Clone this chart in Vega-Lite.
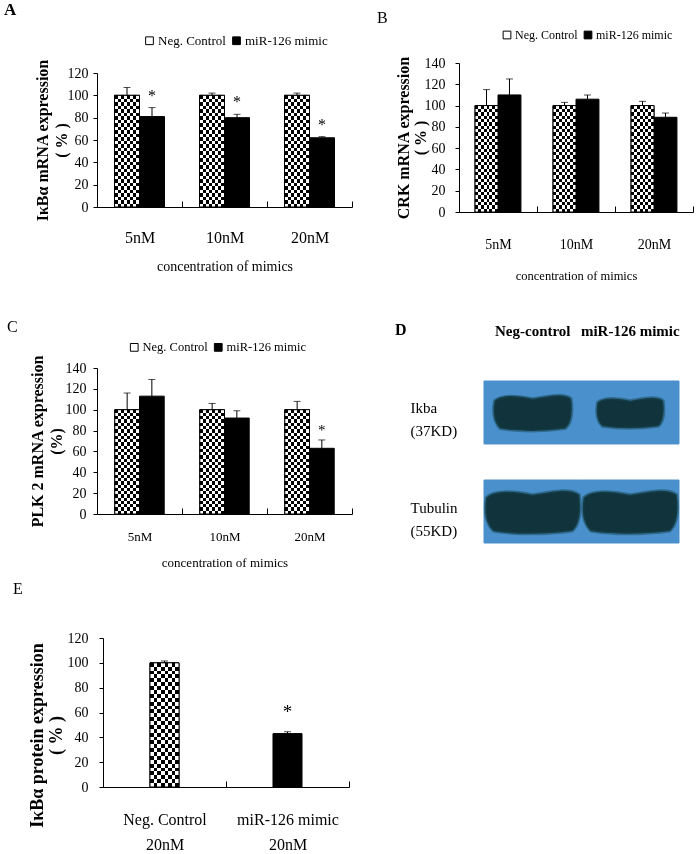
{
"$schema": "https://vega.github.io/schema/vega-lite/v6.json",
"background": "white",
"padding": {"left": 4, "top": 1, "right": 0, "bottom": 0},
"config": {
 "view": {"stroke": null},
 "font": "Liberation Serif",
 "axis": {"grid": false, "domainColor": "black", "tickColor": "black", "labelColor": "black", "titleColor": "black", "labelFont": "Liberation Serif", "titleFont": "Liberation Serif", "domainWidth": 1, "tickWidth": 1},
 "axisY": {"titleFontWeight": "bold"},
 "axisX": {"titleFontWeight": "normal", "labelOverlap": false},
 "legend": {"symbolType": "square", "symbolSize": 60, "symbolStrokeColor": "black", "symbolStrokeWidth": 1, "labelFont": "Liberation Serif", "labelColor": "black", "columnPadding": 4, "labelOffset": 2, "padding": 0, "rowPadding": 0},
 "title": {"font": "Liberation Serif", "color": "black"}
},
"datasets": {
 "A": [
  {"conc": "5nM", "group": "Neg. Control", "value": 100, "hi": 107, "sig": ""},
  {"conc": "5nM", "group": "miR-126 mimic", "value": 81, "hi": 89, "sig": "*"},
  {"conc": "10nM", "group": "Neg. Control", "value": 100, "hi": 102, "sig": ""},
  {"conc": "10nM", "group": "miR-126 mimic", "value": 80, "hi": 83, "sig": "*"},
  {"conc": "20nM", "group": "Neg. Control", "value": 100, "hi": 102, "sig": ""},
  {"conc": "20nM", "group": "miR-126 mimic", "value": 62, "hi": 63, "sig": "*"}
 ],
 "B": [
  {"conc": "5nM", "group": "Neg. Control", "value": 100, "hi": 115, "sig": ""},
  {"conc": "5nM", "group": "miR-126 mimic", "value": 110, "hi": 125, "sig": ""},
  {"conc": "10nM", "group": "Neg. Control", "value": 100, "hi": 103, "sig": ""},
  {"conc": "10nM", "group": "miR-126 mimic", "value": 106, "hi": 110, "sig": ""},
  {"conc": "20nM", "group": "Neg. Control", "value": 100, "hi": 104, "sig": ""},
  {"conc": "20nM", "group": "miR-126 mimic", "value": 89, "hi": 93, "sig": ""}
 ],
 "C": [
  {"conc": "5nM", "group": "Neg. Control", "value": 100, "hi": 116, "sig": ""},
  {"conc": "5nM", "group": "miR-126 mimic", "value": 113, "hi": 129, "sig": ""},
  {"conc": "10nM", "group": "Neg. Control", "value": 100, "hi": 106, "sig": ""},
  {"conc": "10nM", "group": "miR-126 mimic", "value": 92, "hi": 99, "sig": ""},
  {"conc": "20nM", "group": "Neg. Control", "value": 100, "hi": 108, "sig": ""},
  {"conc": "20nM", "group": "miR-126 mimic", "value": 63, "hi": 71, "sig": "*"}
 ],
 "D": [
  {"lane": "Neg-control", "protein": "Ikba|(37KD)", "signal": 68},
  {"lane": "miR-126 mimic", "protein": "Ikba|(37KD)", "signal": 50},
  {"lane": "Neg-control", "protein": "Tubulin|(55KD)", "signal": 100},
  {"lane": "miR-126 mimic", "protein": "Tubulin|(55KD)", "signal": 100}
 ],
 "E": [
  {"cond": "Neg. Control|20nM", "group": "Neg. Control", "value": 100, "hi": 101.5, "sig": ""},
  {"cond": "miR-126 mimic|20nM", "group": "miR-126 mimic", "value": 43, "hi": 44.5, "sig": "*"}
 ]
},
"columns": 2,
"spacing": {"row": 95, "column": 107},
"bounds": "flush",
"align": "each",
"resolve": {"scale": {"color": "independent", "x": "independent", "y": "independent", "xOffset": "independent", "size": "independent"}, "legend": {"color": "independent"}, "axis": {"x": "independent", "y": "independent"}},
"concat": [
{
 "data": {"name": "A"},
 "width": 255, "height": 149,
 "title": {"text": "A", "anchor": "start", "frame": "group", "dx": -93, "offset": 15, "fontSize": 17, "fontWeight": "bold"},
 "encoding": {
  "x": {"field": "conc", "type": "nominal", "sort": ["5nM", "10nM", "20nM"], "scale": {"paddingInner": 0, "paddingOuter": 0},
        "axis": {"title": "concentration of mimics", "offset": -5, "tickBand": "extent", "tickSize": -6, "labelPadding": 28, "labelAngle": 0, "labelFontSize": 16, "titleFontSize": 14, "titlePadding": 14}},
  "xOffset": {"field": "group", "type": "nominal", "scale": {"domain": ["Neg. Control", "miR-126 mimic"], "paddingInner": 0, "paddingOuter": 0.7}},
  "y": {"field": "value", "type": "quantitative", "title": ["IκBα mRNA expression", "( % )"], "scale": {"domain": [0, 120], "range": [144, 10], "nice": false},
        "axis": {"values": [0, 20, 40, 60, 80, 100, 120], "tickSize": 4, "labelPadding": 5, "labelFontSize": 14, "titleFontSize": 16, "titleLineHeight": 19, "titlePadding": -2}}
 },
 "layer": [
  {"mark": {"type": "bar", "stroke": "black", "strokeWidth": 1},
   "encoding": {"color": {"field": "group", "type": "nominal", "scale": {"domain": ["Neg. Control", "miR-126 mimic"], "range": ["white", "black"]},
     "legend": {"orient": "none", "legendX": 46, "legendY": -29, "direction": "horizontal", "title": null, "labelFontSize": 13}}}},
  {"transform": [{"filter": "datum.group === 'Neg. Control'"}],
   "mark": {"type": "bar", "fill": {"gradient": "linear", "x1": 0, "y1": 0, "x2": 0, "y2": 1, "stops": [{"offset":0,"color":"#000"},{"offset":0.03125,"color":"#000"},{"offset":0.03125,"color":"#fff"},{"offset":0.0625,"color":"#fff"},{"offset":0.0625,"color":"#000"},{"offset":0.09375,"color":"#000"},{"offset":0.09375,"color":"#fff"},{"offset":0.125,"color":"#fff"},{"offset":0.125,"color":"#000"},{"offset":0.15625,"color":"#000"},{"offset":0.15625,"color":"#fff"},{"offset":0.1875,"color":"#fff"},{"offset":0.1875,"color":"#000"},{"offset":0.21875,"color":"#000"},{"offset":0.21875,"color":"#fff"},{"offset":0.25,"color":"#fff"},{"offset":0.25,"color":"#000"},{"offset":0.28125,"color":"#000"},{"offset":0.28125,"color":"#fff"},{"offset":0.3125,"color":"#fff"},{"offset":0.3125,"color":"#000"},{"offset":0.34375,"color":"#000"},{"offset":0.34375,"color":"#fff"},{"offset":0.375,"color":"#fff"},{"offset":0.375,"color":"#000"},{"offset":0.40625,"color":"#000"},{"offset":0.40625,"color":"#fff"},{"offset":0.4375,"color":"#fff"},{"offset":0.4375,"color":"#000"},{"offset":0.46875,"color":"#000"},{"offset":0.46875,"color":"#fff"},{"offset":0.5,"color":"#fff"},{"offset":0.5,"color":"#000"},{"offset":0.53125,"color":"#000"},{"offset":0.53125,"color":"#fff"},{"offset":0.5625,"color":"#fff"},{"offset":0.5625,"color":"#000"},{"offset":0.59375,"color":"#000"},{"offset":0.59375,"color":"#fff"},{"offset":0.625,"color":"#fff"},{"offset":0.625,"color":"#000"},{"offset":0.65625,"color":"#000"},{"offset":0.65625,"color":"#fff"},{"offset":0.6875,"color":"#fff"},{"offset":0.6875,"color":"#000"},{"offset":0.71875,"color":"#000"},{"offset":0.71875,"color":"#fff"},{"offset":0.75,"color":"#fff"},{"offset":0.75,"color":"#000"},{"offset":0.78125,"color":"#000"},{"offset":0.78125,"color":"#fff"},{"offset":0.8125,"color":"#fff"},{"offset":0.8125,"color":"#000"},{"offset":0.84375,"color":"#000"},{"offset":0.84375,"color":"#fff"},{"offset":0.875,"color":"#fff"},{"offset":0.875,"color":"#000"},{"offset":0.90625,"color":"#000"},{"offset":0.90625,"color":"#fff"},{"offset":0.9375,"color":"#fff"},{"offset":0.9375,"color":"#000"},{"offset":0.96875,"color":"#000"},{"offset":0.96875,"color":"#fff"},{"offset":1,"color":"#fff"}]}}},
  {"transform": [{"filter": "datum.group === 'Neg. Control'"}],
   "mark": {"type": "bar", "blend": "difference", "fill": {"gradient": "linear", "x1": 0, "y1": 0, "x2": 1, "y2": 0, "stops": [{"offset":0,"color":"#000"},{"offset":0.125,"color":"#000"},{"offset":0.125,"color":"#fff"},{"offset":0.25,"color":"#fff"},{"offset":0.25,"color":"#000"},{"offset":0.375,"color":"#000"},{"offset":0.375,"color":"#fff"},{"offset":0.5,"color":"#fff"},{"offset":0.5,"color":"#000"},{"offset":0.625,"color":"#000"},{"offset":0.625,"color":"#fff"},{"offset":0.75,"color":"#fff"},{"offset":0.75,"color":"#000"},{"offset":0.875,"color":"#000"},{"offset":0.875,"color":"#fff"},{"offset":1,"color":"#fff"}]}}},
  {"transform": [{"filter": "datum.group === 'Neg. Control'"}],
   "mark": {"type": "bar", "fillOpacity": 0, "stroke": "black", "strokeWidth": 1}},
  {"mark": {"type": "rule", "color": "black", "strokeWidth": 1}, "encoding": {"y2": {"field": "hi"}}},
  {"mark": {"type": "tick", "color": "black", "thickness": 1, "size": 7, "orient": "horizontal"}, "encoding": {"y": {"field": "hi", "type": "quantitative", "title": ["IκBα mRNA expression", "( % )"]}}},
  {"mark": {"type": "text", "dy": -12, "fontSize": 16, "baseline": "middle", "color": "black"}, "encoding": {"y": {"field": "hi", "type": "quantitative", "title": ["IκBα mRNA expression", "( % )"]}, "text": {"field": "sig"}}}
 ]
},
{
 "data": {"name": "B"},
 "width": 234, "height": 149,
 "title": {"text": "B", "anchor": "start", "frame": "group", "dx": -82, "offset": 3, "fontSize": 16, "fontWeight": "normal"},
 "encoding": {
  "x": {"field": "conc", "type": "nominal", "sort": ["5nM", "10nM", "20nM"], "scale": {"paddingInner": 0, "paddingOuter": 0},
        "axis": {"title": "concentration of mimics", "tickBand": "extent", "tickSize": -6, "labelPadding": 31, "labelAngle": 0, "labelFontSize": 14, "titleFontSize": 12.5, "titlePadding": 18}},
  "xOffset": {"field": "group", "type": "nominal", "scale": {"domain": ["Neg. Control", "miR-126 mimic"], "paddingInner": 0, "paddingOuter": 0.7}},
  "y": {"field": "value", "type": "quantitative", "title": ["CRK mRNA expression", "( % )"], "scale": {"domain": [0, 140], "nice": false},
        "axis": {"values": [0, 20, 40, 60, 80, 100, 120, 140], "tickSize": 4, "labelPadding": 10, "labelFontSize": 14, "titleFontSize": 16, "titleLineHeight": 17, "titlePadding": -4}}
 },
 "layer": [
  {"mark": {"type": "bar", "stroke": "black", "strokeWidth": 1},
   "encoding": {"color": {"field": "group", "type": "nominal", "scale": {"domain": ["Neg. Control", "miR-126 mimic"], "range": ["white", "black"]},
     "legend": {"orient": "none", "legendX": 42, "legendY": -34, "direction": "horizontal", "title": null, "labelFontSize": 12}}}},
  {"transform": [{"filter": "datum.group === 'Neg. Control'"}],
   "mark": {"type": "bar", "fill": {"gradient": "linear", "x1": 0, "y1": 0, "x2": 0, "y2": 1, "stops": [{"offset":0,"color":"#000"},{"offset":0.03125,"color":"#000"},{"offset":0.03125,"color":"#fff"},{"offset":0.0625,"color":"#fff"},{"offset":0.0625,"color":"#000"},{"offset":0.09375,"color":"#000"},{"offset":0.09375,"color":"#fff"},{"offset":0.125,"color":"#fff"},{"offset":0.125,"color":"#000"},{"offset":0.15625,"color":"#000"},{"offset":0.15625,"color":"#fff"},{"offset":0.1875,"color":"#fff"},{"offset":0.1875,"color":"#000"},{"offset":0.21875,"color":"#000"},{"offset":0.21875,"color":"#fff"},{"offset":0.25,"color":"#fff"},{"offset":0.25,"color":"#000"},{"offset":0.28125,"color":"#000"},{"offset":0.28125,"color":"#fff"},{"offset":0.3125,"color":"#fff"},{"offset":0.3125,"color":"#000"},{"offset":0.34375,"color":"#000"},{"offset":0.34375,"color":"#fff"},{"offset":0.375,"color":"#fff"},{"offset":0.375,"color":"#000"},{"offset":0.40625,"color":"#000"},{"offset":0.40625,"color":"#fff"},{"offset":0.4375,"color":"#fff"},{"offset":0.4375,"color":"#000"},{"offset":0.46875,"color":"#000"},{"offset":0.46875,"color":"#fff"},{"offset":0.5,"color":"#fff"},{"offset":0.5,"color":"#000"},{"offset":0.53125,"color":"#000"},{"offset":0.53125,"color":"#fff"},{"offset":0.5625,"color":"#fff"},{"offset":0.5625,"color":"#000"},{"offset":0.59375,"color":"#000"},{"offset":0.59375,"color":"#fff"},{"offset":0.625,"color":"#fff"},{"offset":0.625,"color":"#000"},{"offset":0.65625,"color":"#000"},{"offset":0.65625,"color":"#fff"},{"offset":0.6875,"color":"#fff"},{"offset":0.6875,"color":"#000"},{"offset":0.71875,"color":"#000"},{"offset":0.71875,"color":"#fff"},{"offset":0.75,"color":"#fff"},{"offset":0.75,"color":"#000"},{"offset":0.78125,"color":"#000"},{"offset":0.78125,"color":"#fff"},{"offset":0.8125,"color":"#fff"},{"offset":0.8125,"color":"#000"},{"offset":0.84375,"color":"#000"},{"offset":0.84375,"color":"#fff"},{"offset":0.875,"color":"#fff"},{"offset":0.875,"color":"#000"},{"offset":0.90625,"color":"#000"},{"offset":0.90625,"color":"#fff"},{"offset":0.9375,"color":"#fff"},{"offset":0.9375,"color":"#000"},{"offset":0.96875,"color":"#000"},{"offset":0.96875,"color":"#fff"},{"offset":1,"color":"#fff"}]}}},
  {"transform": [{"filter": "datum.group === 'Neg. Control'"}],
   "mark": {"type": "bar", "blend": "difference", "fill": {"gradient": "linear", "x1": 0, "y1": 0, "x2": 1, "y2": 0, "stops": [{"offset":0,"color":"#000"},{"offset":0.125,"color":"#000"},{"offset":0.125,"color":"#fff"},{"offset":0.25,"color":"#fff"},{"offset":0.25,"color":"#000"},{"offset":0.375,"color":"#000"},{"offset":0.375,"color":"#fff"},{"offset":0.5,"color":"#fff"},{"offset":0.5,"color":"#000"},{"offset":0.625,"color":"#000"},{"offset":0.625,"color":"#fff"},{"offset":0.75,"color":"#fff"},{"offset":0.75,"color":"#000"},{"offset":0.875,"color":"#000"},{"offset":0.875,"color":"#fff"},{"offset":1,"color":"#fff"}]}}},
  {"transform": [{"filter": "datum.group === 'Neg. Control'"}],
   "mark": {"type": "bar", "fillOpacity": 0, "stroke": "black", "strokeWidth": 1}},
  {"mark": {"type": "rule", "color": "black", "strokeWidth": 1}, "encoding": {"y2": {"field": "hi"}}},
  {"mark": {"type": "tick", "color": "black", "thickness": 1, "size": 7, "orient": "horizontal"}, "encoding": {"y": {"field": "hi", "type": "quantitative", "title": ["CRK mRNA expression", "( % )"]}}}
 ]
},
{
 "data": {"name": "C"},
 "width": 255, "height": 207,
 "title": {"text": "C", "anchor": "start", "frame": "group", "dx": -90, "offset": -28, "fontSize": 16, "fontWeight": "normal"},
 "encoding": {
  "x": {"field": "conc", "type": "nominal", "sort": ["5nM", "10nM", "20nM"], "scale": {"paddingInner": 0, "paddingOuter": 0},
        "axis": {"title": "concentration of mimics", "tickBand": "extent", "tickSize": -6, "labelPadding": 22, "labelAngle": 0, "labelFontSize": 13, "titleFontSize": 13, "titlePadding": 13}},
  "xOffset": {"field": "group", "type": "nominal", "scale": {"domain": ["Neg. Control", "miR-126 mimic"], "paddingInner": 0, "paddingOuter": 0.72}},
  "y": {"field": "value", "type": "quantitative", "title": ["PLK 2 mRNA expression", "(%)"], "scale": {"domain": [0, 140], "range": [207, 61], "nice": false},
        "axis": {"values": [0, 20, 40, 60, 80, 100, 120, 140], "tickSize": 4, "labelPadding": 7, "labelFontSize": 14, "titleFontSize": 16, "titleLineHeight": 19, "titlePadding": 1}}
 },
 "layer": [
  {"mark": {"type": "bar", "stroke": "black", "strokeWidth": 1},
   "encoding": {"color": {"field": "group", "type": "nominal", "scale": {"domain": ["Neg. Control", "miR-126 mimic"], "range": ["white", "black"]},
     "legend": {"orient": "none", "legendX": 31, "legendY": 34, "direction": "horizontal", "title": null, "labelFontSize": 12.5}}}},
  {"transform": [{"filter": "datum.group === 'Neg. Control'"}],
   "mark": {"type": "bar", "fill": {"gradient": "linear", "x1": 0, "y1": 0, "x2": 0, "y2": 1, "stops": [{"offset":0,"color":"#000"},{"offset":0.03125,"color":"#000"},{"offset":0.03125,"color":"#fff"},{"offset":0.0625,"color":"#fff"},{"offset":0.0625,"color":"#000"},{"offset":0.09375,"color":"#000"},{"offset":0.09375,"color":"#fff"},{"offset":0.125,"color":"#fff"},{"offset":0.125,"color":"#000"},{"offset":0.15625,"color":"#000"},{"offset":0.15625,"color":"#fff"},{"offset":0.1875,"color":"#fff"},{"offset":0.1875,"color":"#000"},{"offset":0.21875,"color":"#000"},{"offset":0.21875,"color":"#fff"},{"offset":0.25,"color":"#fff"},{"offset":0.25,"color":"#000"},{"offset":0.28125,"color":"#000"},{"offset":0.28125,"color":"#fff"},{"offset":0.3125,"color":"#fff"},{"offset":0.3125,"color":"#000"},{"offset":0.34375,"color":"#000"},{"offset":0.34375,"color":"#fff"},{"offset":0.375,"color":"#fff"},{"offset":0.375,"color":"#000"},{"offset":0.40625,"color":"#000"},{"offset":0.40625,"color":"#fff"},{"offset":0.4375,"color":"#fff"},{"offset":0.4375,"color":"#000"},{"offset":0.46875,"color":"#000"},{"offset":0.46875,"color":"#fff"},{"offset":0.5,"color":"#fff"},{"offset":0.5,"color":"#000"},{"offset":0.53125,"color":"#000"},{"offset":0.53125,"color":"#fff"},{"offset":0.5625,"color":"#fff"},{"offset":0.5625,"color":"#000"},{"offset":0.59375,"color":"#000"},{"offset":0.59375,"color":"#fff"},{"offset":0.625,"color":"#fff"},{"offset":0.625,"color":"#000"},{"offset":0.65625,"color":"#000"},{"offset":0.65625,"color":"#fff"},{"offset":0.6875,"color":"#fff"},{"offset":0.6875,"color":"#000"},{"offset":0.71875,"color":"#000"},{"offset":0.71875,"color":"#fff"},{"offset":0.75,"color":"#fff"},{"offset":0.75,"color":"#000"},{"offset":0.78125,"color":"#000"},{"offset":0.78125,"color":"#fff"},{"offset":0.8125,"color":"#fff"},{"offset":0.8125,"color":"#000"},{"offset":0.84375,"color":"#000"},{"offset":0.84375,"color":"#fff"},{"offset":0.875,"color":"#fff"},{"offset":0.875,"color":"#000"},{"offset":0.90625,"color":"#000"},{"offset":0.90625,"color":"#fff"},{"offset":0.9375,"color":"#fff"},{"offset":0.9375,"color":"#000"},{"offset":0.96875,"color":"#000"},{"offset":0.96875,"color":"#fff"},{"offset":1,"color":"#fff"}]}}},
  {"transform": [{"filter": "datum.group === 'Neg. Control'"}],
   "mark": {"type": "bar", "blend": "difference", "fill": {"gradient": "linear", "x1": 0, "y1": 0, "x2": 1, "y2": 0, "stops": [{"offset":0,"color":"#000"},{"offset":0.125,"color":"#000"},{"offset":0.125,"color":"#fff"},{"offset":0.25,"color":"#fff"},{"offset":0.25,"color":"#000"},{"offset":0.375,"color":"#000"},{"offset":0.375,"color":"#fff"},{"offset":0.5,"color":"#fff"},{"offset":0.5,"color":"#000"},{"offset":0.625,"color":"#000"},{"offset":0.625,"color":"#fff"},{"offset":0.75,"color":"#fff"},{"offset":0.75,"color":"#000"},{"offset":0.875,"color":"#000"},{"offset":0.875,"color":"#fff"},{"offset":1,"color":"#fff"}]}}},
  {"transform": [{"filter": "datum.group === 'Neg. Control'"}],
   "mark": {"type": "bar", "fillOpacity": 0, "stroke": "black", "strokeWidth": 1}},
  {"mark": {"type": "rule", "color": "black", "strokeWidth": 1}, "encoding": {"y2": {"field": "hi"}}},
  {"mark": {"type": "tick", "color": "black", "thickness": 1, "size": 7, "orient": "horizontal"}, "encoding": {"y": {"field": "hi", "type": "quantitative", "title": ["PLK 2 mRNA expression", "(%)"]}}},
  {"mark": {"type": "text", "dy": -10, "fontSize": 15, "baseline": "middle", "color": "black"}, "encoding": {"y": {"field": "hi", "type": "quantitative", "title": ["PLK 2 mRNA expression", "(%)"]}, "text": {"field": "sig"}}}
 ]
},
{
 "data": {"name": "D"},
 "width": 234, "height": 236,
 "title": {"text": "D", "anchor": "start", "frame": "group", "dx": -64, "offset": -31, "fontSize": 16, "fontWeight": "bold"},
 "encoding": {
  "x": {"field": "lane", "type": "nominal", "sort": ["Neg-control", "miR-126 mimic"], "scale": {"range": [25, 220], "paddingInner": 0, "paddingOuter": 0},
        "axis": {"orient": "top", "title": null, "domain": false, "ticks": false, "labelAngle": 0, "labelFontSize": 15, "labelFontWeight": "bold", "offset": -33, "labelPadding": 2}},
  "y": {"field": "protein", "type": "nominal", "sort": ["Ikba|(37KD)", "Tubulin|(55KD)"], "scale": {"range": [74, 236], "paddingInner": 0.364, "paddingOuter": 0},
        "axis": {"title": null, "domain": false, "ticks": false, "labelAlign": "left", "labelPadding": 49, "labelFontSize": 15, "labelLineHeight": 23, "labelExpr": "split(datum.label, '|')", "labelOffset": -4}}
 },
 "layer": [
  {"mark": {"type": "rect", "color": "#4a90cc", "stroke": "#4a90cc", "strokeWidth": 1}},
  {"mark": {"type": "point", "shape": "M-1,-0.3C-0.8,-0.5 -0.3,-0.42 0,-0.36C0.4,-0.42 0.8,-0.52 1,-0.36C1.05,0 1,0.3 0.85,0.42C0.3,0.5 -0.4,0.5 -0.85,0.42C-1.02,0.25 -1.05,0 -1,-0.3Z", "filled": true, "fill": "#0c2c30", "opacity": 0.92, "stroke": "#14424a", "strokeWidth": 3, "strokeOpacity": 0.5},
   "encoding": {"size": {"field": "signal", "type": "quantitative", "scale": {"domain": [0, 100], "range": [0, 8649]}, "legend": null}}}
 ]
},
{
 "data": {"name": "E"},
 "width": 252, "height": 149,
 "title": {"text": "E", "anchor": "start", "frame": "group", "dx": -84, "offset": 34, "fontSize": 16, "fontWeight": "normal"},
 "encoding": {
  "x": {"field": "cond", "type": "nominal", "sort": ["Neg. Control|20nM", "miR-126 mimic|20nM"], "scale": {"range": [6, 252], "paddingInner": 0, "paddingOuter": 0},
        "axis": {"title": null, "tickBand": "extent", "tickSize": -6, "labelPadding": 30, "labelAngle": 0, "labelFontSize": 16, "labelLineHeight": 25, "labelExpr": "split(datum.label, '|')"}},
  "y": {"field": "value", "type": "quantitative", "title": ["IκBα protein expression", "( % )"], "scale": {"domain": [0, 120], "nice": false},
        "axis": {"offset": -6, "values": [0, 20, 40, 60, 80, 100, 120], "tickSize": 4, "labelPadding": 11, "labelFontSize": 14, "titleFontSize": 18, "titleLineHeight": 19, "titlePadding": 2, "titleY": 97}}
 },
 "layer": [
  {"mark": {"type": "bar", "stroke": "black", "strokeWidth": 1, "width": {"band": 0.236}},
   "encoding": {"color": {"field": "group", "type": "nominal", "scale": {"domain": ["Neg. Control", "miR-126 mimic"], "range": ["white", "black"]}, "legend": null}}},
  {"transform": [{"filter": "datum.group === 'Neg. Control'"}],
   "mark": {"type": "bar", "width": {"band": 0.236}, "fill": {"gradient": "linear", "x1": 0, "y1": 0, "x2": 0, "y2": 1, "stops": [{"offset":0,"color":"#000"},{"offset":0.03125,"color":"#000"},{"offset":0.03125,"color":"#fff"},{"offset":0.0625,"color":"#fff"},{"offset":0.0625,"color":"#000"},{"offset":0.09375,"color":"#000"},{"offset":0.09375,"color":"#fff"},{"offset":0.125,"color":"#fff"},{"offset":0.125,"color":"#000"},{"offset":0.15625,"color":"#000"},{"offset":0.15625,"color":"#fff"},{"offset":0.1875,"color":"#fff"},{"offset":0.1875,"color":"#000"},{"offset":0.21875,"color":"#000"},{"offset":0.21875,"color":"#fff"},{"offset":0.25,"color":"#fff"},{"offset":0.25,"color":"#000"},{"offset":0.28125,"color":"#000"},{"offset":0.28125,"color":"#fff"},{"offset":0.3125,"color":"#fff"},{"offset":0.3125,"color":"#000"},{"offset":0.34375,"color":"#000"},{"offset":0.34375,"color":"#fff"},{"offset":0.375,"color":"#fff"},{"offset":0.375,"color":"#000"},{"offset":0.40625,"color":"#000"},{"offset":0.40625,"color":"#fff"},{"offset":0.4375,"color":"#fff"},{"offset":0.4375,"color":"#000"},{"offset":0.46875,"color":"#000"},{"offset":0.46875,"color":"#fff"},{"offset":0.5,"color":"#fff"},{"offset":0.5,"color":"#000"},{"offset":0.53125,"color":"#000"},{"offset":0.53125,"color":"#fff"},{"offset":0.5625,"color":"#fff"},{"offset":0.5625,"color":"#000"},{"offset":0.59375,"color":"#000"},{"offset":0.59375,"color":"#fff"},{"offset":0.625,"color":"#fff"},{"offset":0.625,"color":"#000"},{"offset":0.65625,"color":"#000"},{"offset":0.65625,"color":"#fff"},{"offset":0.6875,"color":"#fff"},{"offset":0.6875,"color":"#000"},{"offset":0.71875,"color":"#000"},{"offset":0.71875,"color":"#fff"},{"offset":0.75,"color":"#fff"},{"offset":0.75,"color":"#000"},{"offset":0.78125,"color":"#000"},{"offset":0.78125,"color":"#fff"},{"offset":0.8125,"color":"#fff"},{"offset":0.8125,"color":"#000"},{"offset":0.84375,"color":"#000"},{"offset":0.84375,"color":"#fff"},{"offset":0.875,"color":"#fff"},{"offset":0.875,"color":"#000"},{"offset":0.90625,"color":"#000"},{"offset":0.90625,"color":"#fff"},{"offset":0.9375,"color":"#fff"},{"offset":0.9375,"color":"#000"},{"offset":0.96875,"color":"#000"},{"offset":0.96875,"color":"#fff"},{"offset":1,"color":"#fff"}]}}},
  {"transform": [{"filter": "datum.group === 'Neg. Control'"}],
   "mark": {"type": "bar", "width": {"band": 0.236}, "blend": "difference", "fill": {"gradient": "linear", "x1": 0, "y1": 0, "x2": 1, "y2": 0, "stops": [{"offset":0,"color":"#000"},{"offset":0.125,"color":"#000"},{"offset":0.125,"color":"#fff"},{"offset":0.25,"color":"#fff"},{"offset":0.25,"color":"#000"},{"offset":0.375,"color":"#000"},{"offset":0.375,"color":"#fff"},{"offset":0.5,"color":"#fff"},{"offset":0.5,"color":"#000"},{"offset":0.625,"color":"#000"},{"offset":0.625,"color":"#fff"},{"offset":0.75,"color":"#fff"},{"offset":0.75,"color":"#000"},{"offset":0.875,"color":"#000"},{"offset":0.875,"color":"#fff"},{"offset":1,"color":"#fff"}]}}},
  {"transform": [{"filter": "datum.group === 'Neg. Control'"}],
   "mark": {"type": "bar", "width": {"band": 0.236}, "fillOpacity": 0, "stroke": "black", "strokeWidth": 1}},
  {"mark": {"type": "rule", "color": "black", "strokeWidth": 1}, "encoding": {"y2": {"field": "hi"}}},
  {"mark": {"type": "tick", "color": "black", "thickness": 1, "size": 7, "orient": "horizontal"}, "encoding": {"y": {"field": "hi", "type": "quantitative", "title": ["IκBα protein expression", "( % )"]}}},
  {"mark": {"type": "text", "dy": -20, "fontSize": 19, "baseline": "middle", "color": "black"}, "encoding": {"y": {"field": "hi", "type": "quantitative", "title": ["IκBα protein expression", "( % )"]}, "text": {"field": "sig"}}}
 ]
}
]
}
